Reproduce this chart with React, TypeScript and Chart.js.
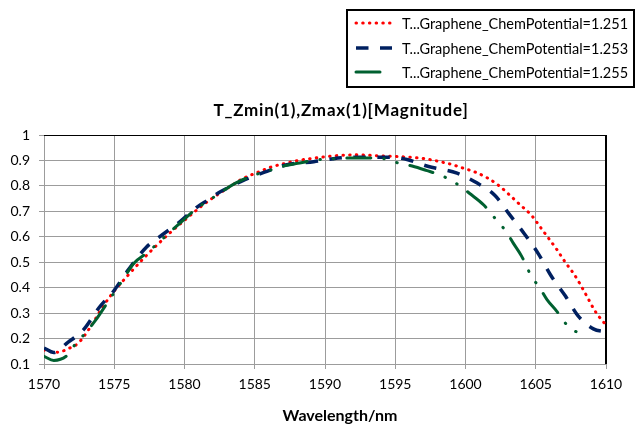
import { useEffect, useRef } from 'react';
import { Chart, registerables } from 'chart.js';

Chart.register(...registerables);

// Transmission magnitude vs wavelength for three graphene chemical potentials
const wavelength1251 = [
  1570, 1570.5, 1571, 1571.7, 1572.4, 1573.3, 1574.1, 1574.9, 1575.9, 1577.0, 1577.9, 1578.9, 1579.9,
  1581.2, 1582.1, 1583.4, 1584.2, 1585.2, 1586.1, 1587.2, 1588.1, 1589.2, 1590.1, 1591.1, 1592.1,
  1593.2, 1594.3, 1595.2, 1596.2, 1597.2, 1598.2, 1599.1, 1599.7, 1600.7, 1601.6, 1602.4, 1603.1,
  1603.8, 1604.7, 1605.3, 1605.9, 1606.5, 1607.1, 1607.7, 1608.2, 1608.7, 1609.2, 1609.8, 1610,
];
const transmission1251 = [
  0.155, 0.148, 0.146, 0.16, 0.18, 0.245, 0.318, 0.38, 0.444, 0.51, 0.56, 0.612, 0.66,
  0.72, 0.756, 0.803, 0.83, 0.853, 0.873, 0.889, 0.9, 0.909, 0.915, 0.92, 0.922,
  0.92, 0.917, 0.915, 0.912, 0.906, 0.895, 0.883, 0.872, 0.854, 0.83, 0.8, 0.766,
  0.73, 0.684, 0.64, 0.595, 0.55, 0.5, 0.455, 0.41, 0.36, 0.31, 0.266, 0.255,
];

const wavelength1253 = [
  1570, 1570.7, 1571.7, 1572.8, 1573.9, 1575, 1576, 1577.3, 1578.4, 1579.6, 1580.8, 1581.7, 1582.4,
  1583.0, 1584.3, 1585.7, 1587.2, 1589.2, 1590.6, 1592.3, 1594.6, 1595.9, 1597.3, 1599.4, 1600.7,
  1602.1, 1603.1, 1604.2, 1605.2, 1606.1, 1607.1, 1608.0, 1609.1, 1610,
];
const transmission1253 = [
  0.163, 0.145, 0.185, 0.234, 0.32, 0.39, 0.47, 0.56, 0.607, 0.656, 0.713, 0.746, 0.772,
  0.79, 0.825, 0.854, 0.882, 0.895, 0.907, 0.913, 0.913, 0.903, 0.877, 0.85, 0.815,
  0.762, 0.69, 0.611, 0.532, 0.446, 0.368, 0.29, 0.238, 0.226,
];

const wavelength1255 = [
  1570, 1570.7, 1571.7, 1572.2, 1572.95, 1573.7, 1574.5, 1575.6, 1576.4, 1577.4, 1578.6, 1579.7,
  1580.8, 1582.2, 1583.6, 1585, 1586, 1587, 1588.2, 1589.5, 1590.7, 1591.5, 1592.5, 1594.2, 1595.2,
  1596.2, 1597.2, 1598.4, 1599.6, 1600.3, 1601.3, 1602.2, 1602.9, 1603.4, 1604.0, 1604.7, 1605.3,
  1605.8, 1606.5, 1607.1, 1607.5, 1608.6,
];
const transmission1255 = [
  0.13, 0.114, 0.136, 0.176, 0.222, 0.274, 0.34, 0.43, 0.496, 0.54, 0.6, 0.655,
  0.708, 0.76, 0.81, 0.843, 0.86, 0.877, 0.89, 0.903, 0.907, 0.91, 0.91, 0.907, 0.89,
  0.878, 0.861, 0.838, 0.8, 0.77, 0.725, 0.666, 0.62, 0.575, 0.523, 0.444, 0.398,
  0.353, 0.307, 0.261, 0.237, 0.218,
];

const seriesNames = [
  'T...Graphene_ChemPotential=1.251',
  'T...Graphene_ChemPotential=1.253',
  'T...Graphene_ChemPotential=1.255',
];
const xTickLabels = ['1570', '1575', '1580', '1585', '1590', '1595', '1600', '1605', '1610'];
const yTickLabels = ['0.1', '0.2', '0.3', '0.4', '0.5', '0.6', '0.7', '0.8', '0.9', '1'];
const chartTitle = 'T_Zmin(1),Zmax(1)[Magnitude]';
const xAxisTitle = 'Wavelength/nm';

const FONT = 'Lato, "Open Sans", "Liberation Sans", sans-serif';
const GRID = '#9c9c9c';

type LineStyle = { color: string; width: number; dash: number[]; cap: CanvasLineCap };
const lineStyles: LineStyle[] = [
  { color: '#ff0000', width: 3, dash: [0.5, 6.2], cap: 'round' },
  { color: '#002060', width: 3.5, dash: [12.5, 11.5], cap: 'butt' },
  { color: '#006030', width: 3, dash: [24, 13, 0.5, 13, 0.5, 13], cap: 'round' },
];

const toPoints = (xs: number[], ys: number[]) => xs.map((x, i) => ({ x, y: ys[i] }));

const decorations = {
  id: 'decorations',
  beforeDatasetsDraw(chart: Chart) {
    const { ctx, chartArea } = chart;
    ctx.save();
    ctx.strokeStyle = '#000';
    ctx.lineWidth = 1;
    ctx.beginPath();
    ctx.moveTo(chartArea.left, chartArea.top + 0.5);
    ctx.lineTo(chartArea.right, chartArea.top + 0.5);
    ctx.stroke();
    ctx.lineWidth = 2;
    ctx.beginPath();
    ctx.moveTo(chartArea.right, chartArea.top);
    ctx.lineTo(chartArea.right, chartArea.bottom);
    ctx.stroke();
    ctx.restore();
  },
  afterDraw(chart: Chart) {
    const { ctx } = chart;
    ctx.save();
    // Titles
    ctx.fillStyle = '#000';
    ctx.textAlign = 'center';
    ctx.textBaseline = 'alphabetic';
    ctx.font = `bold 17px ${FONT}`;
    (ctx as any).letterSpacing = '0.8px';
    ctx.fillText(chartTitle, 341, 116);
    (ctx as any).letterSpacing = '0px';
    ctx.font = `bold 16px ${FONT}`;
    ctx.fillText(xAxisTitle, 340, 421);

    // Legend box
    ctx.strokeStyle = '#000';
    ctx.lineWidth = 2;
    ctx.strokeRect(347, 10, 287, 77);
    const rows = [23, 48, 72];
    seriesNames.forEach((name, i) => {
      const s = lineStyles[i];
      const y = rows[i];
      ctx.save();
      ctx.strokeStyle = s.color;
      ctx.lineWidth = s.width;
      ctx.lineCap = s.cap;
      ctx.setLineDash(s.dash);
      ctx.beginPath();
      ctx.moveTo(356, y);
      ctx.lineTo(392, y);
      ctx.stroke();
      ctx.restore();
      ctx.fillStyle = '#000';
      ctx.textAlign = 'left';
      ctx.textBaseline = 'middle';
      ctx.font = `14.5px ${FONT}`;
      ctx.fillText(name, 402, y + 1);
    });
    ctx.restore();
  },
};

export default function App() {
  const canvasRef = useRef<HTMLCanvasElement | null>(null);

  useEffect(() => {
    const canvas = canvasRef.current;
    if (!canvas) return;
    const series = [
      toPoints(wavelength1251, transmission1251),
      toPoints(wavelength1253, transmission1253),
      toPoints(wavelength1255, transmission1255),
    ];
    const chart = new Chart(canvas, {
      type: 'line',
      data: {
        datasets: series.map((data, i) => ({
          label: seriesNames[i],
          data,
          borderColor: lineStyles[i].color,
          borderWidth: lineStyles[i].width,
          borderDash: lineStyles[i].dash,
          borderCapStyle: lineStyles[i].cap,
          pointRadius: 0,
          fill: false,
          cubicInterpolationMode: 'monotone' as const,
          order: 3 - i,
        })),
      },
      options: {
        animation: false,
        responsive: false,
        events: [],
        layout: { padding: { top: 135, right: 32, left: 0, bottom: 0 } },
        plugins: { legend: { display: false }, title: { display: false }, tooltip: { enabled: false } },
        scales: {
          x: {
            type: 'linear',
            min: 1570,
            max: 1610,
            afterFit: (scale: any) => { scale.height = 67; },
            afterBuildTicks: (scale: any) => {
              scale.ticks = xTickLabels.map((t) => ({ value: Number(t) }));
            },
            ticks: {
              color: '#000',
              font: { family: FONT, size: 14 },
              padding: 7,
              maxRotation: 0,
              callback: (v: any) => String(v),
            },
            grid: { color: GRID, lineWidth: 1, tickLength: 5, tickColor: GRID },
            border: { color: GRID, width: 1 },
          },
          y: {
            type: 'linear',
            min: 0.1,
            max: 1,
            afterFit: (scale: any) => { scale.width = 44; },
            afterBuildTicks: (scale: any) => {
              scale.ticks = yTickLabels.map((t) => ({ value: Number(t) }));
            },
            ticks: {
              color: '#000',
              font: { family: FONT, size: 14 },
              padding: 9,
              callback: (v: any) => String(Math.round(Number(v) * 10) / 10),
            },
            grid: { color: GRID, lineWidth: 1, tickLength: 5, tickColor: GRID },
            border: { color: GRID, width: 1 },
          },
        },
      },
      plugins: [decorations],
    });
    return () => chart.destroy();
  }, []);

  return (
    <div style={{ position: 'fixed', left: 0, top: 0, width: 638, height: 431, background: '#fff' }}>
      <canvas ref={canvasRef} width={638} height={431} style={{ display: 'block' }} />
    </div>
  );
}
